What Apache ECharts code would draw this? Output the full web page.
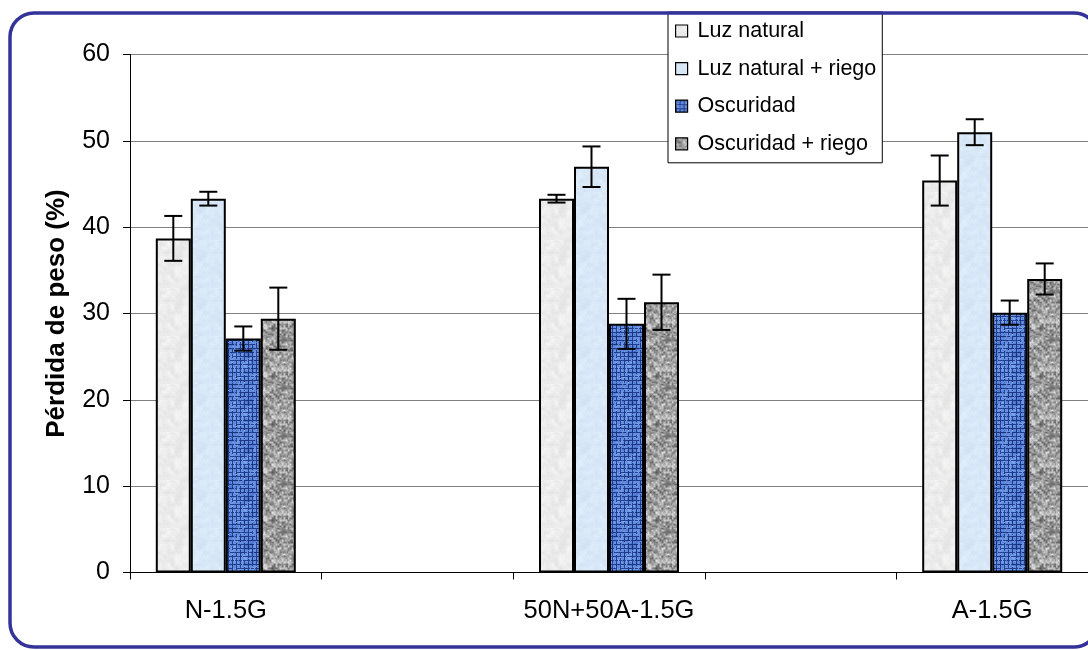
<!DOCTYPE html>
<html>
<head>
<meta charset="utf-8">
<script src="https://cdn.jsdelivr.net/npm/echarts@6/dist/echarts.min.js"></script>
<style>
html,body{margin:0;padding:0;background:#fff;}
#chart{width:1088px;height:650px;}
</style>
</head>
<body>
<div id="chart"></div>
<script>
// ---- data ----
const categories = ['N-1.5G', '', '50N+50A-1.5G', '', 'A-1.5G'];
const seriesNames = ['Luz natural', 'Luz natural + riego', 'Oscuridad', 'Oscuridad + riego'];
const luzNatural      = [38.7, '-', 43.3, '-', 45.4];
const luzNaturalRiego = [43.3, '-', 47.0, '-', 51.0];
const oscuridad       = [27.1, '-', 28.8, '-', 30.1];
const oscuridadRiego  = [29.4, '-', 31.3, '-', 34.0];
const luzNaturalErr      = [2.6, null, 0.45, null, 2.9];
const luzNaturalRiegoErr = [0.8, null, 2.35, null, 1.5];
const oscuridadErr       = [1.4, null, 2.9, null, 1.4];
const oscuridadRiegoErr  = [3.6, null, 3.2, null, 1.8];
const yTicks = [0, 10, 20, 30, 40, 50, 60];

// ---- texture helpers (styling only) ----
function hash(x, y, s) { const n = Math.sin(x * 12.9898 + y * 78.233 + s * 37.719) * 43758.5453; return n - Math.floor(n); }
function smooth(x, y, s, cell) {
  const gx = Math.floor(x / cell), gy = Math.floor(y / cell);
  const fx = (x % cell) / cell, fy = (y % cell) / cell;
  const a = hash(gx, gy, s), b = hash(gx + 1, gy, s), c = hash(gx, gy + 1, s), d = hash(gx + 1, gy + 1, s);
  return (a * (1 - fx) + b * fx) * (1 - fy) + (c * (1 - fx) + d * fx) * fy;
}
function makeTexture(kind) {
  const size = 48;
  const c = document.createElement('canvas');
  c.width = size; c.height = size;
  const ctx = c.getContext('2d');
  const img = ctx.createImageData(size, size);
  for (let y = 0; y < size; y++) {
    for (let x = 0; x < size; x++) {
      const r0 = hash(x, y, 1), r1 = smooth(x, y, 2, 4), r2 = smooth(x, y, 3, 2);
      let R, G, B;
      if (kind === 0) { // light grey speckle
        const v = 236 + (r1 - 0.5) * 18 + (r0 - 0.5) * 6;
        R = v; G = v; B = v;
      } else if (kind === 1) { // light blue
        const v = (r1 - 0.5) * 12 + (r0 - 0.5) * 5;
        R = 216 + v; G = 232 + v; B = 247 + v * 0.5;
      } else if (kind === 2) { // woven blue
        const thread = ((x % 4 === 0) && r2 > 0.3) || ((y % 4 === 0) && r2 < 0.75);
        const n = (r0 - 0.5) * 30 + (r1 - 0.5) * 40;
        if (thread) { R = 30 + n * 0.4; G = 60 + n * 0.5; B = 140 + n; }
        else { R = 100 + n; G = 140 + n; B = 220 + n * 0.5; }
      } else { // grey mottled
        const v = 160 + (r2 - 0.5) * 110 + (r1 - 0.5) * 40 + (r0 - 0.5) * 15;
        R = v; G = v; B = v;
      }
      const i = (y * size + x) * 4;
      img.data[i] = Math.max(0, Math.min(255, R));
      img.data[i + 1] = Math.max(0, Math.min(255, G));
      img.data[i + 2] = Math.max(0, Math.min(255, B));
      img.data[i + 3] = 255;
    }
  }
  ctx.putImageData(img, 0, 0);
  return { image: c, repeat: 'repeat' };
}

const values = [luzNatural, luzNaturalRiego, oscuridad, oscuridadRiego];
const errors = [luzNaturalErr, luzNaturalRiegoErr, oscuridadErr, oscuridadRiegoErr];
const BAR_W = 35;
const FONT = 'Liberation Sans, Arial, sans-serif';

const series = [];
values.forEach((vals, i) => {
  series.push({
    name: seriesNames[i],
    type: 'bar',
    data: vals,
    barWidth: BAR_W,
    barGap: '0%',
    itemStyle: { color: makeTexture(i), borderColor: '#000', borderWidth: 2 },
    emphasis: { disabled: true },
    z: 2
  });
});
values.forEach((vals, i) => {
  const errData = [];
  vals.forEach((v, k) => {
    if (v !== '-' && errors[i][k] != null) errData.push([k, v - errors[i][k], v + errors[i][k]]);
  });
  const offset = (i - 1.5) * BAR_W;
  series.push({
    type: 'custom',
    name: seriesNames[i] + ' err',
    data: errData,
    z: 5,
    silent: true,
    renderItem: function (params, api) {
      const lo = api.coord([api.value(0), api.value(1)]);
      const hi = api.coord([api.value(0), api.value(2)]);
      const x = lo[0] + offset;
      const hw = 9;
      const st = { stroke: '#000', lineWidth: 2 };
      return {
        type: 'group',
        children: [
          { type: 'line', shape: { x1: x, y1: lo[1], x2: x, y2: hi[1] }, style: st },
          { type: 'line', shape: { x1: x - hw, y1: lo[1], x2: x + hw, y2: lo[1] }, style: st },
          { type: 'line', shape: { x1: x - hw, y1: hi[1], x2: x + hw, y2: hi[1] }, style: st }
        ]
      };
    }
  });
});

const chart = echarts.init(document.getElementById('chart'), null, { renderer: 'canvas' });
chart.setOption({
  animation: false,
  backgroundColor: '#fff',
  textStyle: { fontFamily: FONT },
  grid: { left: 130, top: 54.5, width: 967.5, height: 518, containLabel: false },
  legend: {
    data: seriesNames,
    orient: 'vertical',
    left: 668,
    top: 12,
    width: 214,
    padding: [8, 6, 8, 7],
    itemGap: 15.6,
    itemWidth: 12,
    itemHeight: 12,
    icon: 'rect',
    backgroundColor: '#fff',
    borderColor: '#000',
    borderWidth: 1,
    itemStyle: { borderColor: '#000', borderWidth: 1.2 },
    textStyle: { fontSize: 21.5, color: '#000', fontFamily: FONT, lineHeight: 22, padding: [0, 0, 0, 5] },
    selectedMode: false,
    z: 10
  },
  xAxis: {
    type: 'category',
    data: categories,
    boundaryGap: true,
    axisLine: { lineStyle: { color: '#000', width: 1 } },
    axisTick: { show: true, interval: 0, length: 7, lineStyle: { color: '#000' } },
    axisLabel: { interval: 0, color: '#000', fontSize: 25.5, fontFamily: FONT, margin: 25 },
    splitLine: { show: false }
  },
  yAxis: {
    type: 'value',
    min: yTicks[0],
    max: yTicks[yTicks.length - 1],
    interval: 10,
    name: 'Pérdida de peso (%)',
    nameLocation: 'middle',
    nameGap: 60,
    nameTextStyle: { fontSize: 26, fontWeight: 'bold', color: '#000', fontFamily: FONT },
    axisLine: { show: true, lineStyle: { color: '#000', width: 1 } },
    axisTick: { show: true, length: 7, lineStyle: { color: '#000' } },
    axisLabel: { color: '#000', fontSize: 25, fontFamily: FONT, margin: 20 },
    splitLine: { show: true, lineStyle: { color: '#808080', width: 1 } }
  },
  graphic: [{
    type: 'rect',
    z: 100,
    silent: true,
    shape: { x: 10, y: 13, width: 1088, height: 634, r: 24 },
    style: { fill: null, stroke: '#333399', lineWidth: 3.5 }
  }],
  series: series
});
</script>
</body>
</html>
